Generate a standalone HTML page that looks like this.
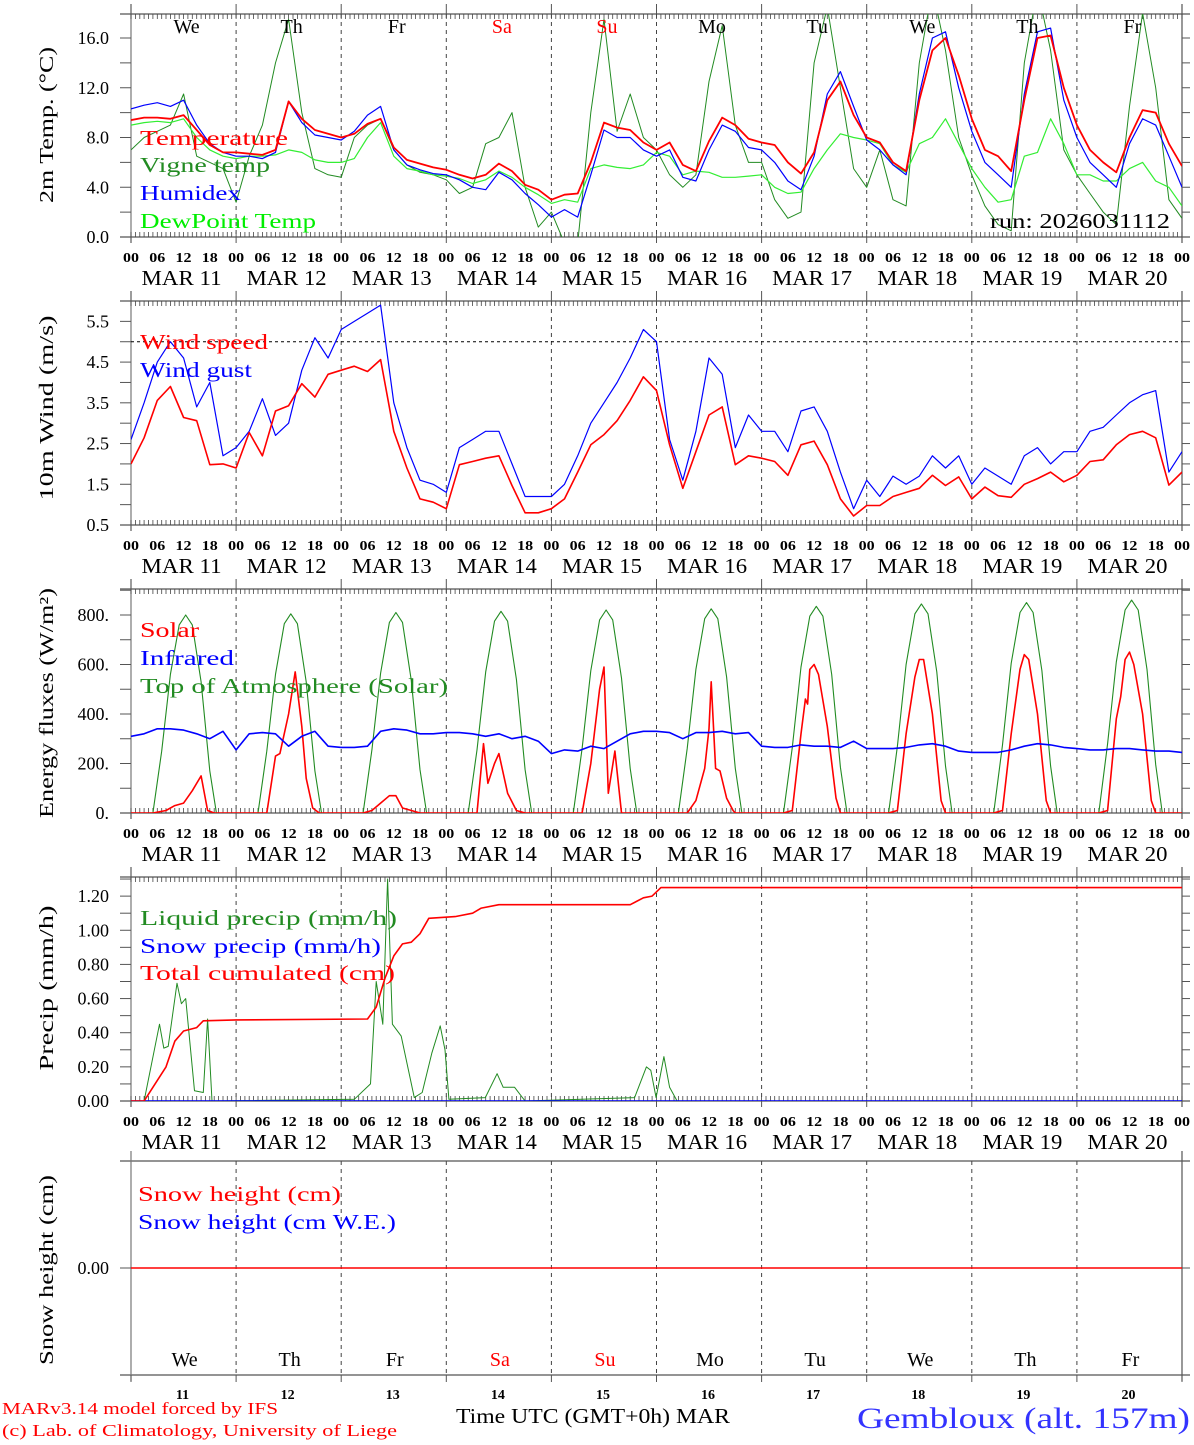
<!DOCTYPE html>
<html><head><meta charset="utf-8"><style>
html,body{margin:0;padding:0;background:#fff}
svg text{font-family:"Liberation Serif",serif}
</style></head><body>
<svg id="chart" xmlns="http://www.w3.org/2000/svg" width="1194" height="1440" viewBox="0 0 1194 1440">
<defs>
<clipPath id="c1"><rect x="131" y="14" width="1051" height="223"/></clipPath>
<clipPath id="c2"><rect x="131" y="301" width="1051" height="224"/></clipPath>
<clipPath id="c3"><rect x="131" y="589" width="1051" height="224"/></clipPath>
<clipPath id="c4"><rect x="131" y="877" width="1051" height="224"/></clipPath>
</defs>
<g id="frame"></g>
<g id="marks"></g>
<g id="texts">
<text x="140" y="145" font-size="21" fill="#ff0000" textLength="148">Temperature</text>
<text x="140" y="172" font-size="21" fill="#228b22" textLength="130">Vigne temp</text>
<text x="140" y="200" font-size="21" fill="#0000ff" textLength="101">Humidex</text>
<text x="140" y="228" font-size="21" fill="#00ee00" textLength="176">DewPoint Temp</text>
<text x="990" y="228" font-size="21" fill="#000" textLength="180">run: 2026031112</text>
<text x="140" y="349" font-size="21" fill="#ff0000" textLength="128">Wind speed</text>
<text x="140" y="377" font-size="21" fill="#0000ff" textLength="112">Wind gust</text>
<text x="140" y="637" font-size="21" fill="#ff0000" textLength="59">Solar</text>
<text x="140" y="665" font-size="21" fill="#0000ff" textLength="94">Infrared</text>
<text x="140" y="693" font-size="21" fill="#228b22" textLength="308">Top of Atmosphere (Solar)</text>
<text x="140" y="925" font-size="21" fill="#228b22" textLength="257">Liquid precip (mm/h)</text>
<text x="140" y="953" font-size="21" fill="#0000ff" textLength="241">Snow precip (mm/h)</text>
<text x="140" y="980" font-size="21" fill="#ff0000" textLength="255">Total cumulated (cm)</text>
<text x="138" y="1201" font-size="21" fill="#ff0000" textLength="203">Snow height (cm)</text>
<text x="138" y="1229" font-size="21" fill="#0000ff" textLength="258">Snow height (cm W.E.)</text>
<text transform="translate(53,125) rotate(-90)" text-anchor="middle" font-size="20" textLength="156">2m Temp. (°C)</text>
<text transform="translate(53,408) rotate(-90)" text-anchor="middle" font-size="20" textLength="185">10m Wind (m/s)</text>
<text transform="translate(53,703) rotate(-90)" text-anchor="middle" font-size="20" textLength="230">Energy fluxes (W/m²)</text>
<text transform="translate(53,988) rotate(-90)" text-anchor="middle" font-size="20" textLength="165">Precip (mm/h)</text>
<text transform="translate(53,1270) rotate(-90)" text-anchor="middle" font-size="20" textLength="190">Snow height (cm)</text>
<text x="2" y="1414" font-size="17" fill="#ff0000" textLength="276">MARv3.14 model forced by IFS</text>
<text x="2" y="1436" font-size="17" fill="#ff0000" textLength="395">(c) Lab. of Climatology, University of Liege</text>
<text x="456" y="1423" font-size="21" fill="#000" textLength="274">Time UTC (GMT+0h) MAR</text>
<text x="857" y="1428" font-size="30" fill="#3333ff" textLength="333">Gembloux (alt. 157m)</text>
</g>
</svg>
<script>
// ---------- data (3-hourly, 81 points, Mar 11 00h .. Mar 21 00h) ----------
const days = ["11","12","13","14","15","16","17","18","19","20"];
const dayNames = ["We","Th","Fr","Sa","Su","Mo","Tu","We","Th","Fr"];
const hourTicks = ["00","06","12","18"];
const tempTicks = ["0.0","4.0","8.0","12.0","16.0"];
const windTicks = ["0.5","1.5","2.5","3.5","4.5","5.5"];
const fluxTicks = ["0.","200.","400.","600.","800."];
const precipTicks = ["0.00","0.20","0.40","0.60","0.80","1.00","1.20"];
const temperature = [9.4,9.6,9.6,9.5,9.8,8.6,7.4,6.8, 6.8,6.7,6.6,7.0,10.9,9.5,8.6,8.3, 8.0,8.3,9.1,9.5,7.2,6.2,5.9,5.6, 5.4,5.0,4.7,5.0,5.9,5.3,4.2,3.8, 3.0,3.4,3.5,6.0,9.2,8.8,8.6,7.6, 7.0,7.6,5.8,5.3,7.7,9.6,9.0,7.9, 7.6,7.4,6.0,5.1,6.8,11.0,12.5,9.8, 8.0,7.6,6.0,5.3,11.0,15.0,16.0,13.0, 9.5,7.0,6.5,5.3,11.0,16.0,16.2,12.0, 9.0,7.0,6.0,5.2,8.0,10.2,10.0,7.5, 5.7];
const humidex = [10.3,10.6,10.8,10.5,11.0,9.0,7.5,6.8, 6.5,6.5,6.3,6.8,10.9,9.2,8.2,8.0, 7.8,8.5,9.8,10.5,7.0,5.8,5.4,5.1, 5.0,4.6,4.0,3.8,5.2,4.6,3.5,2.6, 1.6,2.2,1.6,5.0,8.6,8.0,8.0,7.0, 6.5,7.0,4.8,4.5,7.0,9.0,8.5,7.2, 7.0,6.0,4.5,3.8,6.5,11.5,13.3,10.5, 7.8,7.0,5.8,5.0,11.5,16.0,16.5,12.0, 8.5,6.0,5.0,4.0,11.5,16.5,16.8,11.0, 8.0,6.0,5.0,4.0,7.5,9.5,9.0,6.5, 4.0];
const dewpoint = [9.0,9.2,9.3,9.2,9.5,8.0,7.0,6.5, 6.3,6.5,6.5,6.6,7.0,6.8,6.2,6.0, 6.0,6.3,8.0,9.2,6.5,5.5,5.3,5.0, 4.9,4.7,4.3,4.6,5.3,4.8,4.0,3.4, 2.7,3.0,2.8,5.5,5.8,5.6,5.5,5.8, 6.8,6.5,5.0,5.3,5.2,4.8,4.8,4.9, 5.0,4.0,3.5,3.6,5.5,7.0,8.3,8.0, 7.8,7.5,5.8,5.2,7.5,8.0,9.5,7.5, 5.5,4.0,2.8,3.0,6.5,6.8,9.5,7.5, 5.0,5.0,4.5,4.5,5.5,6.0,4.5,4.0, 2.5];
const vigne = [7.0,8.0,8.5,9.0,11.5,6.5,6.0,5.5, 2.8,6.5,9.0,14.0,17.5,10.0,5.5,5.0, 4.8,8.0,9.0,9.5,7.0,5.8,5.2,5.0, 4.6,3.5,4.0,7.5,8.0,10.0,4.0,0.8, 2.0,-0.5,-0.5,10.0,17.5,8.5,11.5,8.0, 7.0,5.0,4.0,5.0,12.5,17.0,9.0,6.0, 6.0,3.0,1.5,2.0,14.0,18.5,12.0,5.5, 4.0,7.0,3.0,2.5,14.0,20,15,8.0, 5.0,2.5,1.0,0.5,14.0,20,15,7.0, 5.0,3.5,2.0,1.0,10.5,18,12,3.0, 1.5];
const windSpeed = [2.0,2.64,3.56,3.9,3.14,3.06,1.98,2.0, 1.9,2.77,2.2,3.3,3.43,3.97,3.64,4.2, 4.3,4.4,4.27,4.56,2.8,1.9,1.14,1.06, 0.9,1.98,2.06,2.14,2.2,1.47,0.8,0.8, 0.9,1.14,1.8,2.47,2.72,3.06,3.56,4.14, 3.8,2.47,1.4,2.3,3.2,3.4,1.98,2.2, 2.14,2.06,1.72,2.47,2.56,1.98,1.14,0.72, 0.98,0.98,1.2,1.3,1.4,1.72,1.47,1.68, 1.14,1.43,1.22,1.18,1.5,1.64,1.8,1.56, 1.72,2.06,2.1,2.47,2.72,2.8,2.64,1.48, 1.8];
const windGust = [2.6,3.5,4.5,5.0,4.6,3.4,4.0,2.2, 2.4,2.8,3.6,2.7,3.0,4.3,5.1,4.6, 5.3,5.5,5.7,5.9,3.5,2.4,1.6,1.5, 1.3,2.4,2.6,2.8,2.8,2.0,1.2,1.2, 1.2,1.5,2.2,3.0,3.5,4.0,4.6,5.3, 5.0,2.6,1.6,2.8,4.6,4.2,2.4,3.2, 2.8,2.8,2.3,3.3,3.4,2.8,1.8,0.9, 1.6,1.2,1.7,1.5,1.7,2.2,1.9,2.2, 1.5,1.9,1.7,1.5,2.2,2.4,2.0,2.3, 2.3,2.8,2.9,3.2,3.5,3.7,3.8,1.8, 2.3];
const infrared = [310,320,340,340,335,320,300,330, 255,320,325,320,270,310,330,270, 265,265,270,330,340,335,320,320, 325,325,320,310,320,300,310,290, 240,255,250,270,260,290,320,330, 330,325,300,325,325,330,320,325, 270,265,265,275,270,270,265,290, 260,260,260,265,275,280,270,250, 245,245,245,255,270,280,275,265, 260,255,255,260,260,255,250,250, 245];
const toaHours = [0,5,7,9,11,12.5,14,16,18,19.5,24];
const toaDay1 = [0,0,250,560,760,800,760,530,170,0,0];
const toaDay2 = [0,0,250,560,765,805,765,530,170,0,0];
const toaDay3 = [0,0,255,565,770,810,770,535,175,0,0];
const toaDay4 = [0,0,255,570,775,815,775,540,175,0,0];
const toaDay5 = [0,0,260,575,780,820,780,545,180,0,0];
const toaDay6 = [0,0,260,580,785,825,785,550,180,0,0];
const toaDay7 = [0,0,265,590,795,835,795,560,185,0,0];
const toaDay8 = [0,0,270,600,805,845,805,570,190,0,0];
const toaDay9 = [0,0,275,605,810,850,810,575,190,0,0];
const toaDay10 = [0,0,280,610,820,860,820,580,195,0,0];
const solarHours = [0,5,8,10,12,14,16,17.5,19, 29,31,33,34,36,37.5,39,40,41.5,43, 53,55,57,59,60.5,62,64,66, 77,79,80.5,81.5,83,84,86,88,90, 101,103,105,107,108,109,110.5,112, 125,127,129,131,132,132.5,133.5,134.5,136,137.5,138, 149,151,153,154,154.5,155,156,157,159,161,162, 173,175,177,179,180,181,183,185,186, 197,199,201,203,204,205,207,209,210, 221,223,225,226,227,228,229,231,233,234,240];
const solarVals = [0,0,10,30,40,90,150,10,0, 0,0,230,240,400,570,350,140,20,0, 0,10,40,70,70,20,10,0, 0,0,280,120,200,240,80,10,0, 0,0,200,500,590,80,250,0, 0,0,50,180,340,530,180,170,60,10,0, 0,10,320,460,440,580,600,560,350,60,0, 0,10,320,550,620,620,400,50,0, 0,10,320,580,640,620,400,50,0, 0,10,380,470,620,650,600,400,50,0,0];
const liquidHours = [0,3,6.5,7.5,8.5,10.5,11.5,12.5,14.5,16.5,17.5,18.5, 51,54.7,56,57.5,58.6,59.7,61.7,64.7,66.5,68.7,70.6,71.7,72.6, 80.9,83.6,85,87.6,90, 115,117.7,118.7,119.9,121.7,123,124.7,240];
const liquidVals = [0,0,0.45,0.31,0.32,0.69,0.57,0.6,0.06,0.05,0.48,0, 0.01,0.1,0.7,0.45,1.3,0.45,0.38,0.02,0.05,0.28,0.44,0.3,0.01, 0.02,0.16,0.08,0.08,0, 0.02,0.2,0.18,0.02,0.26,0.08,0,0];
const cumHours = [0,3,5,8,10,12,15,16.5,24,54,56,58,60,62,64,66,68,74,78,80,84,114,117,119,121,240];
const cumVals = [0,0,0.08,0.2,0.35,0.41,0.43,0.47,0.475,0.48,0.55,0.72,0.85,0.92,0.93,0.98,1.07,1.08,1.1,1.13,1.15,1.15,1.19,1.2,1.25,1.25];
const snowHours = [0,240];
const snowPrecip = [0,0];
const snowHeight = [0,0];

const X0=131, X1=1182, H=240;
const xs = h => X0 + h*(X1-X0)/H;
const panels = [
  {top:14,bot:237,min:0,max:17.93},
  {top:301,bot:525,min:0.5,max:6.0},
  {top:589,bot:813,min:0,max:905},
  {top:877,bot:1101,min:0,max:1.312},
  {top:1161,bot:1375,min:-1,max:1}
];
const ys = (p,v) => p.bot - (v-p.min)*(p.bot-p.top)/(p.max-p.min);
const NS="http://www.w3.org/2000/svg";
const frame=document.getElementById('frame'), marks=document.getElementById('marks'), texts=document.getElementById('texts');
function el(tag, attrs, parent){const e=document.createElementNS(NS,tag);for(const k in attrs)e.setAttribute(k,attrs[k]);parent.appendChild(e);return e;}
function txt(s,attrs,parent){const e=el('text',attrs,parent);e.textContent=s;return e;}

panels.forEach((p,pi)=>{
  const hl=el('line',{x1:120,x2:1190,y1:p.top,y2:p.top,stroke:'#555','stroke-width':1.3},frame);
  
  
  const bl=el('line',{x1:120,x2:1190,y1:p.bot,y2:p.bot,stroke:'#555','stroke-width':1.3},frame);
  
  
  const la=el('line',{x1:X0,x2:X0,y1:p.top-10,y2:p.bot+6,stroke:'#777','stroke-width':1.2},frame);
  
  
  el('line',{x1:X1,x2:X1,y1:p.top-10,y2:p.bot+6,stroke:'#555','stroke-width':1.2},frame);
  for(let d=1;d<10;d++){
    const dl=el('line',{x1:xs(d*24),x2:xs(d*24),y1:p.top,y2:p.bot,stroke:'#444','stroke-width':1,'stroke-dasharray':'4,4'},frame);
    
    
  }
  if(pi<4){
    let d='';
    for(let h=0;h<=240;h++){const x=xs(h).toFixed(1);d+=`M${x} ${p.top}v5M${x} ${p.bot}v-5`;}
    el('path',{d:d,stroke:'#444','stroke-width':0.8,fill:'none'},frame);
    for(let dd=0;dd<=10;dd++){el('line',{x1:xs(dd*24),x2:xs(dd*24),y1:p.top-10,y2:p.top,stroke:'#555'},frame);el('line',{x1:xs(dd*24),x2:xs(dd*24),y1:p.bot,y2:p.bot+6,stroke:'#555'},frame);}
    for(let dd=0;dd<10;dd++){
      hourTicks.forEach((t,i)=>{
        const tl=txt(t,{x:xs(dd*24+i*6),y:p.bot+25,'font-size':14,'text-anchor':'middle','font-weight':'bold',textLength:16},texts);
        
        
      });
      const ml=txt('MAR '+days[dd],{x:xs(dd*24+12)-2,y:p.bot+48,'font-size':21,'text-anchor':'middle',textLength:80},texts);
      
      
    }
    const last=txt(hourTicks[0],{x:xs(240),y:p.bot+25,'font-size':14,'text-anchor':'middle','font-weight':'bold',textLength:16},texts);
    
    
  } else {
    for(let dd=0;dd<=10;dd++) el('line',{x1:xs(dd*24),x2:xs(dd*24),y1:p.bot,y2:p.bot+7,stroke:'#555'},frame);
  }
});
function yTicks(p,vals,labels,step){
  for(let v=vals[0];v<=vals[1]+1e-9;v+=step){
    el('line',{x1:120,x2:X0,y1:ys(p,v),y2:ys(p,v),stroke:'#555'},frame);
    el('line',{x1:X1,x2:1190,y1:ys(p,v),y2:ys(p,v),stroke:'#555'},frame);
  }
  labels.forEach(l=>{
    const t=txt(l,{x:109,y:ys(p,parseFloat(l))+6,'font-size':18,'text-anchor':'end'},texts);
    
    
  });
}
yTicks(panels[0],[0,16],tempTicks,2);
yTicks(panels[1],[0.5,6.0],windTicks,0.5);
yTicks(panels[2],[0,900],fluxTicks,100);
yTicks(panels[3],[0,1.3],precipTicks,0.1);
yTicks(panels[4],[0,0],["0.00"],1);
const ref=el('line',{x1:X0,x2:X1,y1:ys(panels[1],5.0),y2:ys(panels[1],5.0),stroke:'#000','stroke-dasharray':'3,3'},frame);


dayNames.forEach((n,i)=>{
  const col=(i===3||i===4)?'#ff0000':'#000';
  const a=txt(n,{x:xs(i*24+12)+3,y:33,'font-size':20,'text-anchor':'middle',fill:col},texts);
  
  
  const b=txt(n,{x:xs(i*24+12)+1,y:1366,'font-size':20,'text-anchor':'middle',fill:col},texts);
  
  
  const c=txt(days[i],{x:xs(i*24+12)-1,y:1399,'font-size':14,'text-anchor':'middle','font-weight':'bold'},texts);
  
  
});
// stretch glyphs to fill textLength (wide reference font)
document.querySelectorAll('text[textLength]').forEach(t=>t.setAttribute('lengthAdjust','spacingAndGlyphs'));

function line(p,clip,hours,vals,color,w,name){
  const pts=vals.map((v,i)=>xs(hours[i]).toFixed(1)+','+ys(p,v).toFixed(1)).join(' ');
  const pl=el('polyline',{points:pts,fill:'none',stroke:color,'stroke-width':w,'stroke-linejoin':'round','clip-path':clip?`url(#${clip})`:''},marks);
  
  
}
const h3=temperature.map((_,i)=>i*3);
line(panels[0],'c1',h3,vigne,'#228b22',1,'vigne-temp-line');
line(panels[0],'c1',h3,dewpoint,'#33ee33',1.2,'dewpoint-line');
line(panels[0],'c1',h3,humidex,'#0000ff',1.2,'humidex-line');
line(panels[0],'c1',h3,temperature,'#ff0000',1.8,'temperature-line');
line(panels[1],'c2',h3,windGust,'#0000ff',1.2,'wind-gust-line');
line(panels[1],'c2',h3,windSpeed,'#ff0000',1.6,'wind-speed-line');
const toaDays=[toaDay1,toaDay2,toaDay3,toaDay4,toaDay5,toaDay6,toaDay7,toaDay8,toaDay9,toaDay10];
let toaH=[],toaV=[];
toaDays.forEach((arr,d)=>arr.forEach((v,i)=>{toaH.push(d*24+toaHours[i]);toaV.push(v);}));
line(panels[2],'c3',toaH,toaV,'#228b22',1.1,'toa-solar-line');
line(panels[2],'c3',solarHours,solarVals,'#ff0000',1.6,'solar-line');
line(panels[2],'c3',h3,infrared,'#0000ff',1.6,'infrared-line');
line(panels[3],'c4',liquidHours,liquidVals,'#228b22',1,'liquid-precip-line');
line(panels[3],'c4',snowHours,snowPrecip,'#0000ff',1.6,'snow-precip-line');
line(panels[3],'c4',cumHours,cumVals,'#ff0000',1.6,'cumulated-precip-line');
line(panels[4],null,snowHours,snowHeight,'#ff0000',1.4,'snow-height-line');
</script>
</body></html>
